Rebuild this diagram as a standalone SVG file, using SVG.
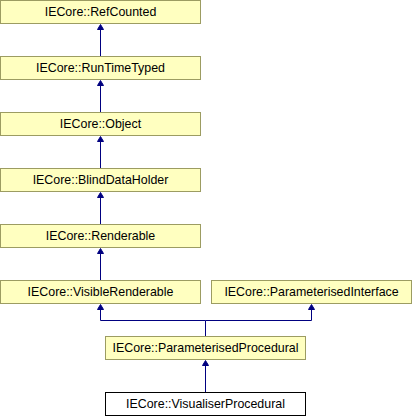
<svg xmlns="http://www.w3.org/2000/svg" width="412" height="416" viewBox="0 0 412 416">
<style>
.n rect{fill:#ffffc0;stroke:#9c9c62;stroke-width:1}
.c rect{fill:#ffffff;stroke:#000000;stroke-width:1}
text{font-family:"Liberation Sans",Arial,sans-serif;font-size:12.4px;fill:#000;text-anchor:middle}
.e{fill:none;stroke:#000080;stroke-width:1}
.h{fill:#000080;stroke:#000080;stroke-width:1}
</style>
<rect width="412" height="416" fill="#ffffff"/>
<g id="connectors">
<path class="e" d="M100.5,29 V56"/><path class="h" d="M100.5,24.5 L97.5,29.5 H103.5 Z"/>
<path class="e" d="M100.5,85 V112"/><path class="h" d="M100.5,80.5 L97.5,85.5 H103.5 Z"/>
<path class="e" d="M100.5,141 V168"/><path class="h" d="M100.5,136.5 L97.5,141.5 H103.5 Z"/>
<path class="e" d="M100.5,197 V224"/><path class="h" d="M100.5,192.5 L97.5,197.5 H103.5 Z"/>
<path class="e" d="M100.5,253 V280"/><path class="h" d="M100.5,248.5 L97.5,253.5 H103.5 Z"/>
<path class="e" d="M205.5,336 V320.5 H100.5 V309"/><path class="h" d="M100.5,304.5 L97.5,309.5 H103.5 Z"/>
<path class="e" d="M205.5,320.5 H311.5 V309"/><path class="h" d="M311.5,304.5 L308.5,309.5 H314.5 Z"/>
<path class="e" d="M205.5,392 V365"/><path class="h" d="M205.5,360.5 L202.5,365.5 H208.5 Z"/>
</g>
<g id="RefCounted" class="n"><rect x="0.5" y="0.5" width="200" height="23"/><text x="100.5" y="16">IECore::RefCounted</text></g>
<g id="RunTimeTyped" class="n"><rect x="0.5" y="56.5" width="200" height="23"/><text x="100.5" y="72">IECore::RunTimeTyped</text></g>
<g id="Object" class="n"><rect x="0.5" y="112.5" width="200" height="23"/><text x="100.5" y="128">IECore::Object</text></g>
<g id="BlindDataHolder" class="n"><rect x="0.5" y="168.5" width="200" height="23"/><text x="100.5" y="184">IECore::BlindDataHolder</text></g>
<g id="Renderable" class="n"><rect x="0.5" y="224.5" width="200" height="23"/><text x="100.5" y="240">IECore::Renderable</text></g>
<g id="VisibleRenderable" class="n"><rect x="0.5" y="280.5" width="200" height="23"/><text x="100.5" y="296">IECore::VisibleRenderable</text></g>
<g id="ParameterisedInterface" class="n"><rect x="211.5" y="280.5" width="200" height="23"/><text x="311.5" y="296">IECore::ParameterisedInterface</text></g>
<g id="ParameterisedProcedural" class="n"><rect x="105.5" y="336.5" width="200" height="23"/><text x="205.5" y="352">IECore::ParameterisedProcedural</text></g>
<g id="VisualiserProcedural" class="c"><rect x="105.5" y="392.5" width="200" height="23"/><text x="205.5" y="408">IECore::VisualiserProcedural</text></g>
</svg>
